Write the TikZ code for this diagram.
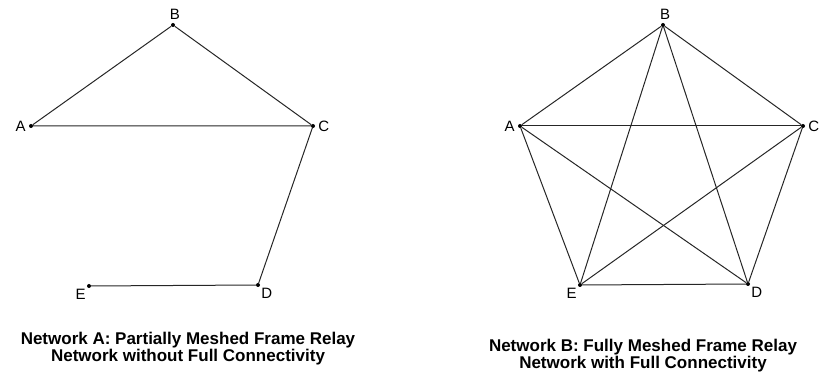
\documentclass[tikz,border=0pt]{standalone}
\usepackage{fontspec}
\setmainfont{Liberation Sans}
\usetikzlibrary{positioning}

\begin{document}
\begin{tikzpicture}[
    x=1pt, y=-1pt,
    dot/.style={circle, fill=black, inner sep=0pt, minimum size=4pt},
    link/.style={line width=1pt, black!85},
    every label/.style={font=\fontsize{15}{15}\selectfont, inner sep=3pt},
    caption/.style={font=\fontsize{17}{17}\selectfont\bfseries, align=center}
]
    \useasboundingbox (0,0) rectangle (823,379);

    % Network A: partial mesh
    \node[dot, label={[xshift=2pt]above:B}] (aB) at (173,25) {};
    \node[dot, label={left:A}] (aA) at (31,126) {};
    \node[dot, label={right:C}] (aC) at (313,126) {};
    \node[dot, label={[label distance=-2pt]-39:D}] (aD) at (258,285) {};
    \node[dot, label={[label distance=-2pt]209:E}] (aE) at (89,286) {};

    \draw[link] (aA) -- (aB) -- (aC) -- (aA);
    \draw[link] (aC) -- (aD) -- (aE);

    \node[caption] (capA) at (188,349) {Network A: Partially Meshed Frame Relay\\Network without Full Connectivity};

    % Network B: full mesh
    \node[dot, label={[xshift=2pt]above:B}] (bB) at (663,25) {};
    \node[dot, label={left:A}] (bA) at (520,126) {};
    \node[dot, label={right:C}] (bC) at (803,126) {};
    \node[dot, label={[label distance=-2pt]-39:D}] (bD) at (748,284) {};
    \node[dot, label={[label distance=-2pt]209:E}] (bE) at (580,285) {};

    \foreach \s/\t in {A/B, A/C, A/D, A/E, B/C, B/D, B/E, C/D, C/E, D/E} {
        \draw[link] (b\s) -- (b\t);
    }

    \node[caption] (capB) at (643,356) {Network B: Fully Meshed Frame Relay\\Network with Full Connectivity};
\end{tikzpicture}
\end{document}
